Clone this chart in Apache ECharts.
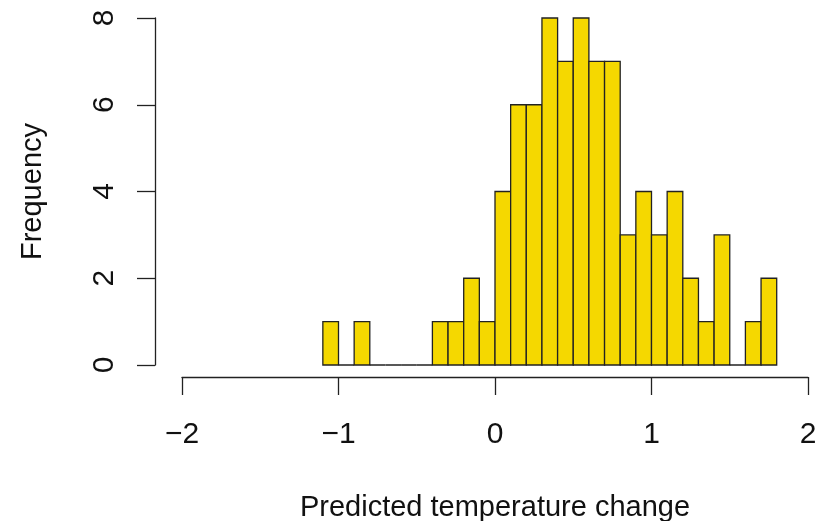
<!DOCTYPE html>
<html>
<head>
<meta charset="utf-8">
<script src="https://cdn.jsdelivr.net/npm/echarts@6/dist/echarts.min.js"></script>
<style>html,body{margin:0;padding:0;background:#fff;overflow:hidden}#c{width:830px;height:521px}</style>
</head>
<body>
<div id="c"></div>
<script>
// Histogram bins (width 0.1) and counts
const binStarts = [-1.1,-1.0,-0.9,-0.8,-0.7,-0.6,-0.5,-0.4,-0.3,-0.2,-0.1,0.0,0.1,0.2,0.3,0.4,0.5,0.6,0.7,0.8,0.9,1.0,1.1,1.2,1.3,1.4,1.5,1.6,1.7];
const counts    = [1,0,1,0,0,0,0,1,1,2,1,4,6,6,8,7,8,7,7,3,4,3,4,2,1,3,0,1,2];
const binWidth = 0.1;
const xTicks = [-2,-1,0,1,2];
const yTicks = [0,2,4,6,8];

const data = binStarts.map((s,i)=>[s, +(s+binWidth).toFixed(2), counts[i]]);
const font = '"Liberation Sans", Arial, Helvetica, sans-serif';

const chart = echarts.init(document.getElementById('c'), null, {renderer:'canvas'});
chart.setOption({
  animation:false,
  backgroundColor:'#fff',
  grid:{left:182, width:626, top:18, height:347, containLabel:false, outerBoundsMode:'none'},
  xAxis:{
    type:'value', min:xTicks[0], max:xTicks[xTicks.length-1], interval:1,
    offset:12,
    axisLine:{show:true, onZero:false, lineStyle:{color:'#222', width:1.3}},
    axisTick:{show:true, length:18, lineStyle:{color:'#222', width:1.3}},
    axisLabel:{fontSize:30, fontFamily:font, color:'#111', margin:43,
      formatter:v=> v<0 ? '\u2212'+Math.abs(v) : String(v)},
    splitLine:{show:false},
    name:'Predicted temperature change', nameLocation:'middle', nameGap:116,
    nameTextStyle:{fontSize:29, fontFamily:font, color:'#111'}
  },
  yAxis:{
    type:'value', min:yTicks[0], max:yTicks[yTicks.length-1], interval:2,
    offset:27,
    axisLine:{show:true, onZero:false, lineStyle:{color:'#222', width:1.3}},
    axisTick:{show:true, length:18, lineStyle:{color:'#222', width:1.3}},
    axisLabel:{fontSize:30, fontFamily:font, color:'#111', margin:35, rotate:90},
    splitLine:{show:false},
    name:'Frequency', nameLocation:'middle', nameGap:108,
    nameTextStyle:{fontSize:29, fontFamily:font, color:'#111'}
  },
  series:[{
    type:'custom',
    data:data,
    encode:{x:[0,1], y:2},
    renderItem:function(params, api){
      const p0 = api.coord([api.value(0), 0]);
      const p1 = api.coord([api.value(1), api.value(2)]);
      return {
        type:'rect',
        shape:{x:p0[0], y:p1[1], width:p1[0]-p0[0], height:p0[1]-p1[1]},
        style:{fill:'#F5D800', stroke:'#222', lineWidth:1.3}
      };
    }
  }]
});
</script>
</body>
</html>
